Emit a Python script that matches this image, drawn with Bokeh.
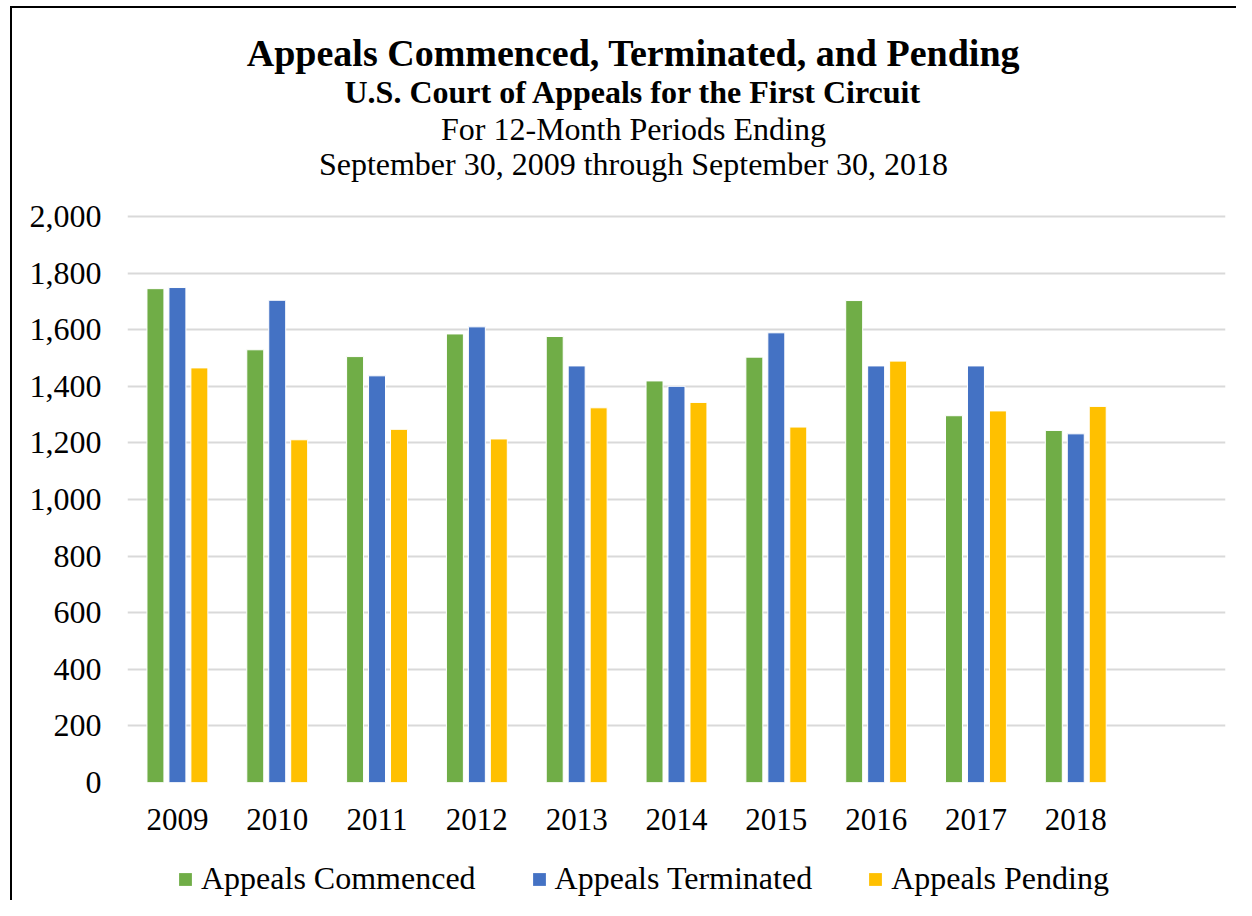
from bokeh.plotting import figure
from bokeh.layouts import column
from bokeh.models import (Range1d, FixedTicker, NumeralTickFormatter, Label,
                          Legend, LegendItem, ColumnDataSource)
from bokeh.transform import dodge
from bokeh.embed import file_html
from bokeh.resources import INLINE

years = ["2009", "2010", "2011", "2012", "2013", "2014", "2015", "2016", "2017", "2018"]
commenced = [1745, 1529, 1505, 1585, 1576, 1419, 1503, 1703, 1296, 1244]
terminated = [1749, 1704, 1437, 1610, 1472, 1400, 1589, 1472, 1472, 1232]
pending = [1465, 1211, 1248, 1214, 1324, 1343, 1256, 1489, 1313, 1329]
series_names = ["Appeals Commenced", "Appeals Terminated", "Appeals Pending"]
y_ticks = [0, 200, 400, 600, 800, 1000, 1200, 1400, 1600, 1800, 2000]

title_lines = [
    ("Appeals Commenced, Terminated, and Pending", "bold", "38px"),
    ("U.S. Court of Appeals for the First Circuit", "bold", "32px"),
    ("For 12-Month Periods Ending", "normal", "32px"),
    ("September 30, 2009 through September 30, 2018", "normal", "32px"),
]

FONT = "Liberation Serif"
COLORS = ["#70AD47", "#4472C4", "#FFC000"]

# frame spans from y=20 (px) to y=782 (px); value 2000 sits at y=216 (px)
Y_TOP = 2000 * (782 - 20) / (782 - 216)

src = ColumnDataSource(dict(x=list(range(len(years))), commenced=commenced,
                            terminated=terminated, pending=pending))

p = figure(width=1236, height=846, output_backend="svg", toolbar_location=None,
           x_range=Range1d(-0.5, 10.5), y_range=Range1d(0, Y_TOP),
           min_border_left=127, min_border_right=11, min_border_top=20,
           min_border_bottom=64)
p.outline_line_color = None
p.background_fill_color = "white"
p.border_fill_color = None

bw = 0.17
for col, off, c in zip(["commenced", "terminated", "pending"], [-0.22, 0.0, 0.22], COLORS):
    p.vbar(x=dodge("x", off, range=p.x_range), top=col, width=bw, source=src,
           fill_color=c, line_color="white", line_width=1)

# axes
p.xaxis.ticker = FixedTicker(ticks=list(range(len(years))))
p.xaxis.major_label_overrides = {i: y for i, y in enumerate(years)}
p.yaxis.ticker = FixedTicker(ticks=y_ticks)
p.yaxis.formatter = NumeralTickFormatter(format="0,0")
for ax in (p.xaxis, p.yaxis):
    ax.axis_line_color = None
    ax.major_tick_line_color = None
    ax.minor_tick_line_color = None
    ax.major_tick_out = 0
    ax.major_tick_in = 0
    ax.major_label_text_font = FONT
    ax.major_label_text_color = "black"
p.yaxis.major_label_text_font_size = "32px"
p.xaxis.major_label_text_font_size = "31px"
p.yaxis.major_label_standoff = 26
p.xaxis.major_label_standoff = 26

p.xgrid.grid_line_color = None
p.ygrid.ticker = FixedTicker(ticks=y_ticks)
p.ygrid.grid_line_color = "#d9d9d9"
p.ygrid.grid_line_width = 2

# titles (screen units relative to the frame's bottom-left corner)
ys = [730, 691, 654, 619]
for (txt, style, size), yy in zip(title_lines, ys):
    p.add_layout(Label(x=506, y=yy, x_units="screen", y_units="screen", text=txt,
                       text_font=FONT, text_font_style=style, text_font_size=size,
                       text_align="center", text_baseline="middle", text_color="black"))

# legend strip (its frame is aligned with the chart's frame)
pl = figure(width=1236, height=54, output_backend="svg", toolbar_location=None,
            x_range=Range1d(0, 1), y_range=Range1d(0, 1),
            x_axis_location=None, y_axis_location=None,
            min_border_left=0, min_border_right=0, min_border_top=0, min_border_bottom=0)
pl.outline_line_color = None
pl.background_fill_color = None
pl.border_fill_color = None
pl.grid.grid_line_color = None
items = []
for name, c in zip(series_names, COLORS):
    # swatch-only renderer, kept outside the visible range
    r = pl.vbar(x=[-5], top=[-5], width=0.1, fill_color=c, line_color=None)
    items.append(LegendItem(label=name, renderers=[r]))
legend = Legend(items=items, location=(50, 3), orientation="horizontal",
                label_text_font=FONT, label_text_font_size="32px",
                label_text_color="black", glyph_width=16, glyph_height=16,
                label_standoff=8, spacing=55, padding=0, margin=0,
                border_line_color=None, background_fill_color=None,
                background_fill_alpha=0)
pl.add_layout(legend, "center")

layout = column(p, pl, spacing=0)
layout.styles = {"background": "linear-gradient(#000,#000) 10px 6px / 2px calc(100% - 6px) no-repeat, "
                               "linear-gradient(#000,#000) 10px 6px / calc(100% - 10px) 2px no-repeat, #fff"}

open("out.html", "w").write(file_html(layout, INLINE))
